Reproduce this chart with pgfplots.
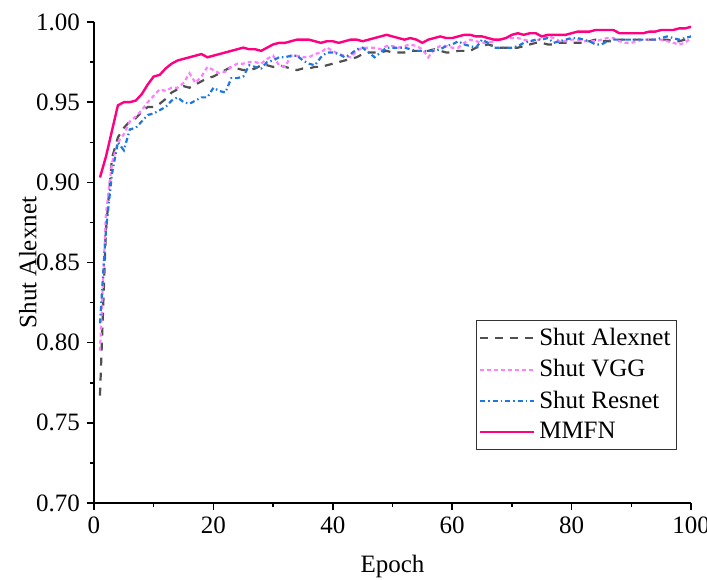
\documentclass[border=0pt]{standalone}
\usepackage{fontspec}
\setmainfont{Liberation Serif}
\usepackage{pgfplots}
\usepackage{pgfplotstable}
\pgfplotsset{compat=1.18}
\definecolor{alexc}{RGB}{80,80,80}
\definecolor{vggc}{RGB}{255,128,255}
\definecolor{resc}{RGB}{30,120,225}
\definecolor{mmfnc}{RGB}{255,0,128}
\pgfplotstableread{
ep alex vgg res mmfn
1 0.767 0.795 0.812 0.903
2 0.870 0.880 0.870 0.916
3 0.915 0.912 0.905 0.932
4 0.928 0.925 0.925 0.948
5 0.934 0.930 0.920 0.950
6 0.938 0.938 0.933 0.950
7 0.940 0.941 0.934 0.951
8 0.944 0.945 0.938 0.955
9 0.947 0.950 0.942 0.961
10 0.947 0.954 0.943 0.966
11 0.949 0.958 0.945 0.967
12 0.952 0.957 0.947 0.971
13 0.956 0.959 0.951 0.974
14 0.958 0.959 0.953 0.976
15 0.960 0.962 0.950 0.977
16 0.959 0.968 0.949 0.978
17 0.961 0.962 0.951 0.979
18 0.963 0.966 0.953 0.980
19 0.965 0.972 0.953 0.978
20 0.966 0.970 0.959 0.979
21 0.968 0.968 0.957 0.980
22 0.970 0.969 0.956 0.981
23 0.972 0.972 0.965 0.982
24 0.971 0.974 0.965 0.983
25 0.970 0.974 0.966 0.984
26 0.970 0.975 0.973 0.983
27 0.971 0.975 0.972 0.983
28 0.973 0.974 0.971 0.982
29 0.973 0.977 0.975 0.984
30 0.972 0.979 0.976 0.986
31 0.973 0.973 0.978 0.987
32 0.972 0.972 0.978 0.987
33 0.971 0.979 0.979 0.988
34 0.970 0.979 0.979 0.989
35 0.971 0.978 0.976 0.989
36 0.971 0.978 0.974 0.989
37 0.972 0.980 0.973 0.988
38 0.972 0.981 0.978 0.987
39 0.973 0.984 0.981 0.988
40 0.974 0.982 0.981 0.988
41 0.975 0.980 0.980 0.987
42 0.976 0.979 0.978 0.988
43 0.977 0.978 0.980 0.989
44 0.978 0.982 0.983 0.989
45 0.980 0.984 0.984 0.988
46 0.981 0.984 0.981 0.989
47 0.981 0.984 0.978 0.990
48 0.981 0.983 0.981 0.991
49 0.982 0.985 0.984 0.992
50 0.981 0.985 0.984 0.991
51 0.981 0.984 0.984 0.990
52 0.981 0.985 0.984 0.989
53 0.982 0.986 0.983 0.990
54 0.982 0.985 0.982 0.989
55 0.982 0.983 0.982 0.987
56 0.982 0.978 0.982 0.989
57 0.983 0.983 0.982 0.990
58 0.982 0.985 0.983 0.991
59 0.981 0.985 0.985 0.990
60 0.981 0.984 0.986 0.990
61 0.982 0.984 0.988 0.991
62 0.982 0.987 0.986 0.992
63 0.982 0.989 0.985 0.992
64 0.984 0.988 0.984 0.991
65 0.985 0.987 0.989 0.991
66 0.986 0.987 0.987 0.990
67 0.985 0.988 0.984 0.989
68 0.984 0.989 0.984 0.989
69 0.984 0.990 0.984 0.990
70 0.984 0.990 0.984 0.992
71 0.984 0.990 0.985 0.993
72 0.985 0.989 0.987 0.992
73 0.986 0.988 0.988 0.993
74 0.987 0.988 0.989 0.993
75 0.987 0.990 0.989 0.991
76 0.986 0.991 0.990 0.992
77 0.986 0.990 0.987 0.992
78 0.987 0.988 0.988 0.992
79 0.987 0.988 0.989 0.992
80 0.987 0.989 0.990 0.993
81 0.987 0.989 0.990 0.994
82 0.987 0.988 0.989 0.994
83 0.988 0.988 0.988 0.994
84 0.989 0.988 0.986 0.995
85 0.988 0.989 0.986 0.995
86 0.988 0.990 0.988 0.995
87 0.988 0.990 0.989 0.995
88 0.989 0.988 0.989 0.993
89 0.989 0.987 0.989 0.993
90 0.989 0.987 0.989 0.993
91 0.989 0.988 0.989 0.993
92 0.989 0.989 0.989 0.993
93 0.989 0.989 0.989 0.994
94 0.989 0.989 0.989 0.994
95 0.989 0.989 0.990 0.995
96 0.989 0.988 0.991 0.995
97 0.988 0.987 0.990 0.995
98 0.988 0.986 0.989 0.996
99 0.989 0.987 0.990 0.996
100 0.990 0.990 0.991 0.997
}\datatable
\begin{document}
\begin{tikzpicture}
\begin{axis}[
  scale only axis,
  width=298.5pt, height=240.5pt,
  xmin=0, xmax=100, ymin=0.70, ymax=1.00,
  axis lines*=left,
  axis line style={line width=0.75pt, black},
  tick align=outside,
  major tick length=3.5pt,
  minor tick length=2pt,
  every tick/.style={black, line width=0.75pt},
  xtick={0,20,...,100},
  ytick={0.70,0.75,...,1.001},
  minor x tick num=1,
  minor y tick num=1,
  /pgf/number format/assume math mode=true,
  yticklabel style={/pgf/number format/fixed, /pgf/number format/fixed zerofill, /pgf/number format/precision=2},
  ticklabel style={font=\fontsize{12.5}{15}\selectfont},
  xlabel={Epoch}, ylabel={Shut Alexnet},
  every axis x label/.style={at={(axis description cs:0.5,-0.131)}, anchor=center, font=\fontsize{12.5}{15}\selectfont},
  every axis y label/.style={at={(axis description cs:-0.111,0.5)}, rotate=90, anchor=center, font=\fontsize{12.5}{15}\selectfont},
  legend style={at={(0.9766,0.110)}, anchor=south east, draw=black!80, line width=0.5pt,
    font=\fontsize{12.5}{15}\selectfont, cells={anchor=west}, row sep=1.5pt,
    inner xsep=1pt, inner ysep=2pt},
  legend image code/.code={\draw[#1] plot coordinates {(0pt,0pt) (27pt,0pt)};},
]
\addplot[alexc, line width=1.1pt, dash pattern=on 4pt off 3.5pt] table[x=ep, y=alex] {\datatable};
\addlegendentry{Shut Alexnet}
\addplot[vggc, line width=1.1pt, dash pattern=on 2pt off 1.5pt] table[x=ep, y=vgg] {\datatable};
\addlegendentry{Shut VGG}
\addplot[resc, line width=1.1pt, dash pattern=on 2.5pt off 1.5pt on 0.75pt off 1.5pt] table[x=ep, y=res] {\datatable};
\addlegendentry{Shut Resnet}
\addplot[mmfnc, line width=1.2pt] table[x=ep, y=mmfn] {\datatable};
\addlegendentry{MMFN}
\end{axis}
\pgfresetboundingbox
\path ([shift={(-47pt,-38pt)}]current axis.south west) rectangle ([shift={(8pt,11pt)}]current axis.north east);
\end{tikzpicture}
\end{document}
